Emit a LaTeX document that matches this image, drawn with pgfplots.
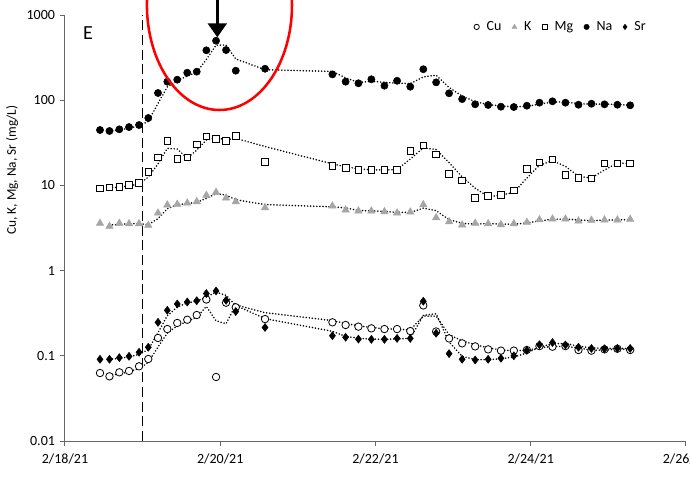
\documentclass[border=0pt]{standalone}
\usepackage{fontspec}
\setmainfont{Carlito}
\usepackage{pgfplots}
\usepackage{pgfplotstable}
\pgfplotsset{compat=1.18}
\usetikzlibrary{arrows.meta}

% x = days after 2/18/21 00:00
\pgfplotstableread{
x Cu K Mg Na Sr
0.451 0.0628 3.59 9.25 44.7 0.0910
0.573 0.0574 3.31 9.50 43.5 0.0910
0.700 0.0640 3.59 9.58 45.5 0.0951
0.825 0.0664 3.55 10.1 48.4 0.0987
0.954 0.0753 3.55 10.7 51.1 0.110
1.073 0.0917 3.40 14.3 61.8 0.126
1.198 0.162 4.74 21.4 121.5 0.247
1.318 0.206 5.89 33.0 164.9 0.342
1.446 0.243 6.00 20.4 174 0.406
1.575 0.265 6.21 21.4 210 0.428
1.697 0.301 6.44 30.4 216 0.443
1.821 0.458 7.65 37.7 385 0.538
1.946 0.0564 8.30 35.1 499 0.577
2.075 0.42 7.11 33.0 388 0.448
2.200 0.371 6.44 38.3 222 0.331
2.577 0.270 5.47 18.8 234 0.215
3.445 0.247 5.73 16.9 201 0.172
3.615 0.230 5.14 16.1 165 0.165
3.780 0.220 5.01 15.2 158 0.157
3.947 0.210 5.01 15.2 176 0.156
4.115 0.206 4.91 15.2 148 0.156
4.278 0.206 4.74 15.3 169 0.160
4.448 0.195 4.87 25.5 144 0.160
4.616 0.39 5.94 29.6 231 0.437
4.781 0.193 4.18 23.2 162 0.184
4.948 0.160 3.75 13.7 120.5 0.106
5.116 0.140 3.43 11.4 103 0.0910
5.284 0.129 3.59 7.18 89.5 0.0893
5.451 0.119 3.55 7.57 87.9 0.0910
5.616 0.115 3.46 7.78 83.9 0.0935
5.782 0.115 3.55 8.76 83.2 0.100
5.950 0.117 3.69 15.6 86.2 0.116
6.112 0.130 3.96 18.7 93.5 0.135
6.280 0.128 4.03 20.2 97.1 0.143
6.447 0.130 4.03 13.2 93.5 0.134
6.615 0.117 3.82 12.3 88.5 0.126
6.782 0.115 3.89 12.1 91.0 0.122
6.950 0.119 3.93 18.2 89.5 0.121
7.116 0.121 3.93 18.2 88.5 0.122
7.281 0.117 4.00 18.2 87.1 0.122
}\datatable

% two-point moving-average trendlines
\pgfplotstableread{
x Cu K Mg Na Sr
0.573 0.0601 3.45 9.38 44.1 0.0910
0.700 0.0607 3.45 9.54 44.5 0.0931
0.825 0.0652 3.57 9.84 47.0 0.0969
0.954 0.0709 3.55 10.4 49.8 0.104
1.073 0.0835 3.48 12.5 56.5 0.118
1.198 0.127 4.07 17.9 91.7 0.187
1.318 0.184 5.32 27.2 143.2 0.295
1.446 0.225 5.95 26.7 169.5 0.374
1.575 0.254 6.11 20.9 192 0.417
1.697 0.283 6.33 25.9 213 0.436
1.821 0.380 7.05 34.1 300.5 0.491
1.946 0.257 7.98 36.4 442 0.558
2.075 0.238 7.71 34.1 443.5 0.513
2.200 0.396 6.78 35.7 305 0.390
2.577 0.321 5.96 28.6 228 0.273
3.445 0.259 5.60 17.9 217.5 0.194
3.615 0.239 5.44 16.5 183 0.169
3.780 0.225 5.08 15.7 161.5 0.161
3.947 0.215 5.01 15.2 167 0.157
4.115 0.208 4.96 15.2 162 0.156
4.278 0.206 4.83 15.3 158.5 0.158
4.448 0.201 4.81 20.4 156.5 0.160
4.616 0.293 5.41 27.6 187.5 0.299
4.781 0.292 5.06 26.4 196.5 0.311
4.948 0.177 3.97 18.5 141.3 0.145
5.116 0.150 3.59 12.6 111.8 0.0985
5.284 0.135 3.51 9.29 96.3 0.0902
5.451 0.124 3.57 7.38 88.7 0.0902
5.616 0.117 3.51 7.68 85.9 0.0923
5.782 0.115 3.51 8.27 83.6 0.0968
5.950 0.116 3.62 12.2 84.7 0.108
6.112 0.124 3.83 17.2 89.9 0.126
6.280 0.129 4.00 19.5 95.3 0.139
6.447 0.129 4.03 16.7 95.3 0.139
6.615 0.124 3.93 12.8 91.0 0.130
6.782 0.116 3.86 12.2 89.8 0.124
6.950 0.117 3.91 15.2 90.3 0.122
7.116 0.120 3.93 18.2 89.0 0.122
7.281 0.119 3.97 18.2 87.8 0.122
}\trendtable

\begin{document}
\begin{tikzpicture}
\begin{axis}[
  at={(48.75pt,26.25pt)}, anchor=south west,
  scale only axis, width=465.75pt, height=319.5pt,
  xmin=0, xmax=8, ymode=log, ymin=0.01, ymax=1000,
  axis x line=bottom, axis y line=left,
  axis line style={-, draw=black!60, line width=0.75pt},
  xtick={0,2,4,6,8},
  xticklabels={2/18/21,2/20/21,2/22/21,2/24/21,2/26/21},
  ytick={0.01,0.1,1,10,100,1000},
  yticklabels={0.01,0.1,1,10,100,1000},
  yminorticks=false, xminorticks=false,
  tick align=outside, major tick length=4pt,
  tick style={draw=black!60, line width=0.75pt},
  ticklabel style={font=\fontsize{10.5}{12}\selectfont},
  xticklabel style={yshift=-2pt},
  clip=false,
  ylabel={Cu, K, Mg, Na, Sr (mg/L)},
  ylabel style={at={(axis description cs:-0.085,0.636)}, anchor=center, font=\fontsize{10}{12}\selectfont},
  legend style={at={(0.799,0.972)}, anchor=center, draw=none, fill=none,
    font=\fontsize{10.5}{12}\selectfont, legend columns=5,
    /tikz/every even column/.append style={column sep=6pt}},
  legend image code/.code={\draw[mark repeat=2, mark phase=2, #1, mark size=2pt] plot coordinates {(0cm,0cm) (0.12cm,0cm) (0.24cm,0cm)};},
  trend/.style={black, line width=1.3pt, dash pattern=on 0pt off 2.3pt, line cap=round, no marks, forget plot},
]
% event line
\addplot[black, line width=0.7pt, dash pattern=on 7.5pt off 3.5pt, forget plot] coordinates {(1,0.01) (1,1000)};
% trendlines
\addplot[trend] table[x=x, y=Cu] {\trendtable};
\addplot[trend] table[x=x, y=K] {\trendtable};
\addplot[trend] table[x=x, y=Mg] {\trendtable};
\addplot[trend] table[x=x, y=Na] {\trendtable};
\addplot[trend] table[x=x, y=Sr] {\trendtable};
% data
\addplot[only marks, mark=*, mark size=2.8pt, mark options={fill=white, draw=black, line width=0.6pt}] table[x=x, y=Cu] {\datatable};
\addlegendentry{\hspace{3.5pt}Cu}
\addplot[only marks, mark=triangle*, mark size=3.2pt, mark options={fill=black!35, draw=black!35}] table[x=x, y=K] {\datatable};
\addlegendentry{\hspace{3.5pt}K}
\addplot[only marks, mark=square*, mark size=2.5pt, mark options={fill=white, draw=black, line width=0.6pt}] table[x=x, y=Mg] {\datatable};
\addlegendentry{\hspace{3.5pt}Mg}
\addplot[only marks, mark=*, mark size=2.7pt, mark options={fill=black, draw=black}] table[x=x, y=Na] {\datatable};
\addlegendentry{\hspace{3.5pt}Na}
\addplot[only marks, mark=diamond*, mark size=3pt, mark options={fill=black, draw=black}] table[x=x, y=Sr] {\datatable};
\addlegendentry{\hspace{3.5pt}Sr}
\end{axis}
\node[font=\fontsize{15}{18}\selectfont] at (66pt,332pt) {E};
\draw[red, line width=1.9pt] (164.6pt,353.25pt) ellipse [x radius=54.4pt, y radius=78.75pt];
\draw[black, line width=2.2pt, -{Triangle[length=10.5pt,width=14pt]}] (163pt,365pt) -- (163pt,329pt);
\pgfresetboundingbox
\useasboundingbox (0,0) rectangle (517.5pt,357pt);
\end{tikzpicture}
\end{document}
